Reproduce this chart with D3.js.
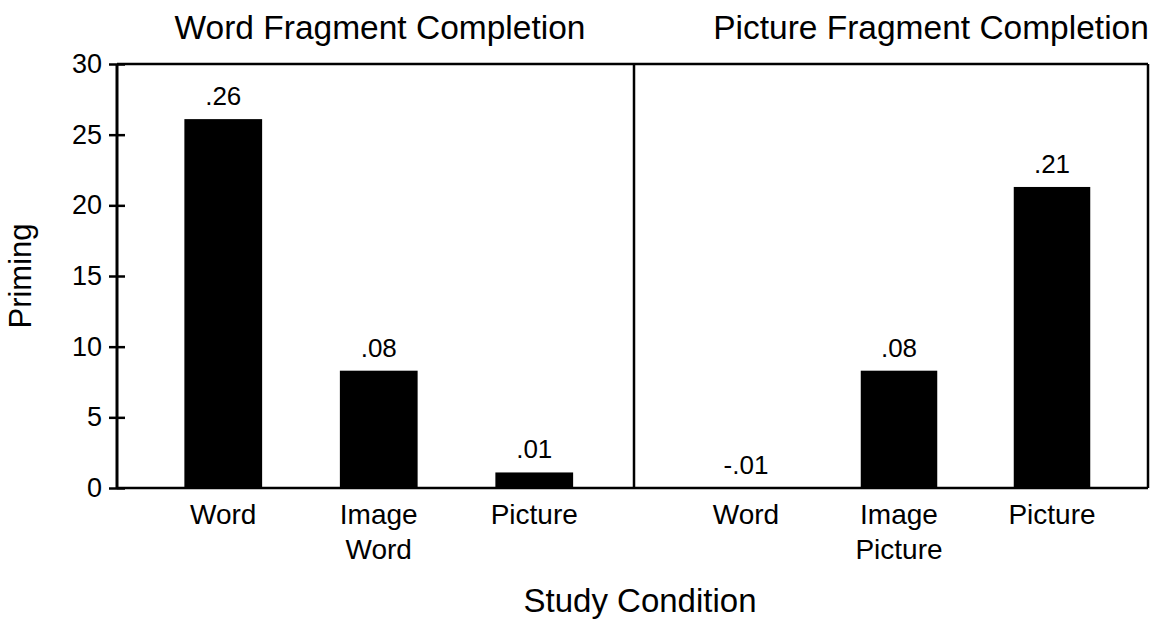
<!DOCTYPE html>
<html><head><meta charset="utf-8">
<script src="https://cdn.jsdelivr.net/npm/d3@7"></script>
<style>body{margin:0;background:#fff}text{font-family:Arial,"Liberation Sans",sans-serif;fill:#000}</style>
</head><body><svg id="c" width="1153" height="629"></svg>
<script>
const panelTitles = ["Word Fragment Completion", "Picture Fragment Completion"];
const leftCats = ["Word", "Image\nWord", "Picture"];
const leftVals = [26.1, 8.3, 1.1];
const leftLabels = [".26", ".08", ".01"];
const rightCats = ["Word", "Image\nPicture", "Picture"];
const rightVals = [0, 8.3, 21.3];
const rightLabels = ["-.01", ".08", ".21"];
const yTicks = [0, 5, 10, 15, 20, 25, 30];
const yTitle = "Priming";
const xTitle = "Study Condition";

const svg = d3.select("#c");
const X0 = 117, XD = 634, X1 = 1148, Y0 = 64, YB = 488;
const y = d3.scaleLinear().domain([0, 30]).range([YB, Y0]);

const panels = [
  {cats: leftCats, vals: leftVals, labels: leftLabels, range: [145.5, 612], title: panelTitles[0], tx: 380},
  {cats: rightCats, vals: rightVals, labels: rightLabels, range: [669.5, 1128.5], title: panelTitles[1], tx: 931}
];

// frame
svg.append("line").attr("x1", X0).attr("x2", X1).attr("y1", Y0).attr("y2", Y0).attr("stroke", "#000").attr("stroke-width", 2.5);
svg.append("line").attr("x1", X1).attr("x2", X1).attr("y1", Y0).attr("y2", YB).attr("stroke", "#000").attr("stroke-width", 2.5);
svg.append("line").attr("x1", XD).attr("x2", XD).attr("y1", Y0).attr("y2", YB).attr("stroke", "#000").attr("stroke-width", 2.5);

panels.forEach(p => {
  const x = d3.scaleBand().domain(p.cats).range(p.range).paddingInner(0.5).paddingOuter(0.25);
  const g = svg.append("g");
  g.selectAll("rect").data(p.vals).join("rect")
    .attr("x", (d, i) => x(p.cats[i]))
    .attr("width", x.bandwidth())
    .attr("y", d => y(Math.max(0, d)))
    .attr("height", d => Math.abs(y(d) - y(0)))
    .attr("fill", "#000");
  g.selectAll("text.val").data(p.vals).join("text").attr("class", "val")
    .attr("x", (d, i) => x(p.cats[i]) + x.bandwidth() / 2)
    .attr("y", d => y(Math.max(0, d)) - 14)
    .attr("text-anchor", "middle").attr("font-size", 26)
    .text((d, i) => p.labels[i]);
  // category labels
  p.cats.forEach(c => {
    const t = g.append("text").attr("text-anchor", "middle").attr("font-size", 28)
      .attr("x", x(c) + x.bandwidth() / 2).attr("y", 524);
    c.split("\n").forEach((line, k) => {
      t.append("tspan").attr("x", x(c) + x.bandwidth() / 2).attr("dy", k ? 35 : 0).text(line);
    });
  });
  svg.append("text").attr("x", p.tx).attr("y", 39).attr("text-anchor", "middle").attr("font-size", 33.5).text(p.title);
});

// x baseline
svg.append("line").attr("x1", X0).attr("x2", X1).attr("y1", YB).attr("y2", YB).attr("stroke", "#000").attr("stroke-width", 2.5);

// y axis
const ax = svg.append("g").attr("transform", `translate(${X0},0)`)
  .call(d3.axisLeft(y).tickValues(yTicks).tickSize(8).tickPadding(7).tickFormat(d3.format("d")));
ax.select(".domain").remove();
ax.append("line").attr("x1", 0).attr("x2", 0).attr("y1", Y0).attr("y2", YB).attr("stroke", "#000").attr("stroke-width", 3);
ax.selectAll(".tick line").attr("x1", -8).attr("x2", 8).attr("stroke-width", 2.5);
ax.selectAll(".tick text").attr("font-size", 27).attr("font-family", "Arial, 'Liberation Sans', sans-serif").attr("fill", "#000");

svg.append("text").attr("transform", `translate(31,${(Y0 + YB) / 2}) rotate(-90)`)
  .attr("text-anchor", "middle").attr("font-size", 31).text(yTitle);
svg.append("text").attr("x", 640).attr("y", 612).attr("text-anchor", "middle").attr("font-size", 33).text(xTitle);
</script></body></html>
